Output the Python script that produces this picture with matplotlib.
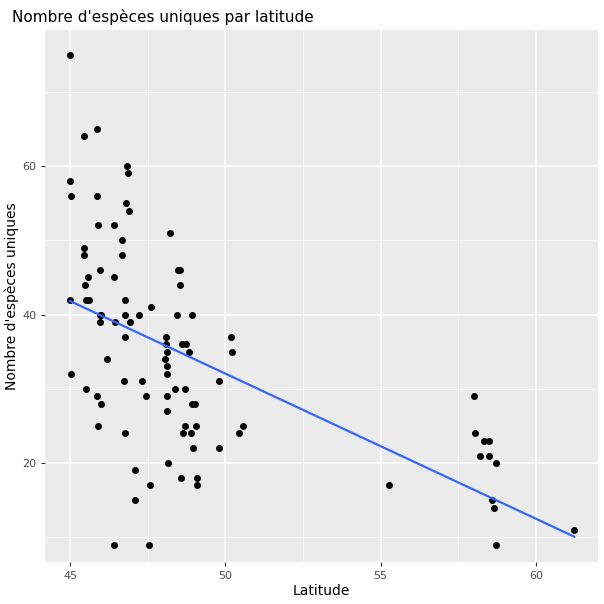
import numpy as np
import matplotlib.pyplot as plt

# points (latitude, number of unique species)
lat=[45.0,45.0,45.03,45.0,45.03,45.45,45.85,45.45,45.45,45.58,45.49,45.52,45.62,45.88,45.91,45.97,45.97,45.97,46.0,
     45.52,45.88,45.91,46.0,46.2,46.4,46.4,46.46,46.4,46.66,46.66,46.72,46.76,46.76,46.76,46.76,
     46.82,46.85,46.79,46.88,46.92,47.1,47.1,47.23,47.3,47.43,47.62,47.58,47.55,
     48.05,48.08,48.08,48.12,48.12,48.12,48.12,48.12,48.15,48.22,
     48.38,48.48,48.54,48.54,48.44,48.61,48.74,48.7,48.57,48.64,
     48.7,48.83,48.93,48.93,48.9,48.96,49.03,49.06,49.09,49.09,
     49.78,49.78,50.17,50.2,50.43,50.56,55.26,
     58.0,58.05,58.21,58.34,58.5,58.5,58.6,58.64,58.73,58.73,61.24]
nsp=[75,58,56,42,32,64,65,49,48,45,44,42,42,56,52,46,40,39,40,
     30,29,25,28,34,52,45,39,9,48,50,31,40,42,37,24,
     60,59,55,54,39,19,15,40,31,29,41,17,9,
     34,37,36,35,33,32,29,27,20,51,
     30,46,46,44,40,36,36,30,18,24,
     25,35,40,28,24,22,28,25,18,17,
     31,22,37,35,24,25,17,
     29,24,21,23,23,21,15,14,20,9,11]

x=np.array(lat); y=np.array(nsp)
a,b=np.polyfit(x,y,1)

fig,ax=plt.subplots(figsize=(6.04,6.04),dpi=100)
fig.subplots_adjust(left=0.075,right=0.99,top=0.95,bottom=0.07)
ax.set_facecolor('#EBEBEB')
for s in ax.spines.values():
    s.set_visible(False)
ax.scatter(x,y,s=16,c='black',zorder=3)
xs=np.array([x.min(),x.max()])
ax.plot(xs,a*xs+b,color='#3366FF',lw=1.6,zorder=4)
ax.set_xlim(44.2,62.0)
ax.set_ylim(6.7,78.3)
ax.set_xticks([45,50,55,60])
ax.set_yticks([20,40,60])
ax.set_xticks([47.5,52.5,57.5],minor=True)
ax.set_yticks([10,30,50,70],minor=True)
ax.grid(True,which='major',color='white',lw=1.1)
ax.grid(True,which='minor',color='white',lw=0.5)
ax.set_axisbelow(True)
ax.tick_params(which='both',length=3,color='#333333',labelcolor='#4D4D4D',labelsize=8)
ax.tick_params(which='minor',length=0)
ax.set_xlabel('Latitude',fontsize=10,labelpad=2)
ax.set_ylabel("Nombre d'espèces uniques",fontsize=10,labelpad=2)
ax.set_title("Nombre d'espèces uniques par latitude",loc='left',fontsize=11,x=-0.06)
fig.savefig('out.png')
